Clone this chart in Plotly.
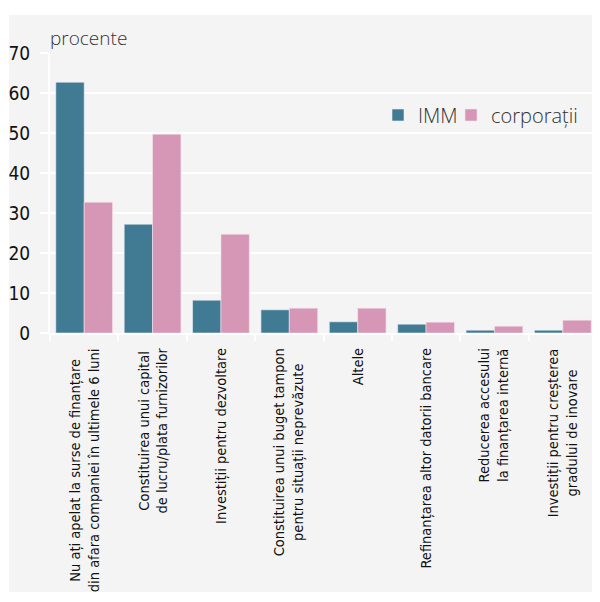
import plotly.graph_objects as go

categories = [
    "Nu ați apelat la surse de finanțare<br>din afara companiei în ultimele 6 luni",
    "Constituirea unui capital<br>de lucru/plata furnizorilor",
    "Investiții pentru dezvoltare",
    "Constituirea unui buget tampon<br>pentru situații neprevăzute",
    "Altele",
    "Refinanțarea altor datorii bancare",
    "Reducerea accesului<br>la finanțarea internă",
    "Investiții pentru creșterea<br>gradului de inovare",
]
imm = [62.7, 27.2, 8.2, 5.8, 2.8, 2.2, 0.7, 0.7]
corporatii = [32.7, 49.7, 24.7, 6.2, 6.2, 2.7, 1.7, 3.2]
y_ticks = [0, 10, 20, 30, 40, 50, 60, 70]

narrow = "Liberation Sans Narrow, DejaVu Sans Condensed, Arial Narrow, sans-serif"
light = "Open Sans, Noto Sans, sans-serif"
bg = "#f4f4f4"

# the page body adds an 8px offset, so the figure is drawn 8px smaller
W, H = 592, 594
l, r, t, b = 42, 3, 45, 269
pw, ph = W - l - r, H - t - b


def px_x(v):
    return (v - 8 - l) / pw


def px_y(v):
    return (H - b - (v - 8)) / ph


fig = go.Figure()
fig.add_trace(go.Bar(x=categories, y=imm, name="IMM", legend="legend", showlegend=True,
                     marker=dict(color="#417a93", line=dict(color="#e9eef1", width=0.6))))
fig.add_trace(go.Bar(x=categories, y=corporatii, name="corporații", legend="legend2",
                     showlegend=True,
                     marker=dict(color="#d696b5", line=dict(color="#f3e6ec", width=0.6))))

# category labels below the axis, centred lines like the original
for cat in categories:
    fig.add_annotation(x=cat, xref="x", y=0, yref="paper", yshift=-13,
                       text=cat, textangle=-90, showarrow=False,
                       xanchor="center", yanchor="top", align="center",
                       font=dict(family=narrow, size=14.5, color="#111"))

fig.add_annotation(x=px_x(48), xref="paper", y=px_y(38), yref="paper", text="procente",
                   showarrow=False, xanchor="left", yanchor="middle",
                   font=dict(family=light, size=19, color="#333", weight=300))

# grey panel behind everything
fig.add_shape(type="rect", xref="paper", yref="paper",
              x0=px_x(9), x1=px_x(600), y0=px_y(592), y1=px_y(15),
              fillcolor=bg, line=dict(width=0), layer="below")

leg_font = dict(family=light, size=20, color="#333", weight=300)
fig.update_layout(
    width=W, height=H,
    margin=dict(l=l, r=r, t=t, b=b, autoexpand=False),
    paper_bgcolor="white",
    plot_bgcolor="rgba(0,0,0,0)",
    showlegend=True,
    barmode="group",
    bargap=0.17,
    bargroupgap=0,
    legend=dict(orientation="h", x=px_x(378), y=px_y(115), xanchor="left",
                yanchor="middle", bgcolor="rgba(0,0,0,0)", itemwidth=30, font=leg_font,
                visible=True),
    legend2=dict(orientation="h", x=px_x(451), y=px_y(115), xanchor="left",
                 yanchor="middle", bgcolor="rgba(0,0,0,0)", itemwidth=30, font=leg_font),
    xaxis=dict(showticklabels=False, showline=True, linecolor="white", linewidth=2,
               ticks="outside", tickson="boundaries", ticklen=6, tickcolor="white",
               tickwidth=2, showgrid=False),
    yaxis=dict(range=[0, 70], tickvals=y_ticks, showline=True, linecolor="white",
               linewidth=2, gridcolor="white", gridwidth=2, ticks="outside",
               ticklen=8, tickcolor="white", tickwidth=2, ticklabelstandoff=6,
               zeroline=False,
               tickfont=dict(family=narrow, size=19, color="#111")),
)

fig.write_html("out.html")
